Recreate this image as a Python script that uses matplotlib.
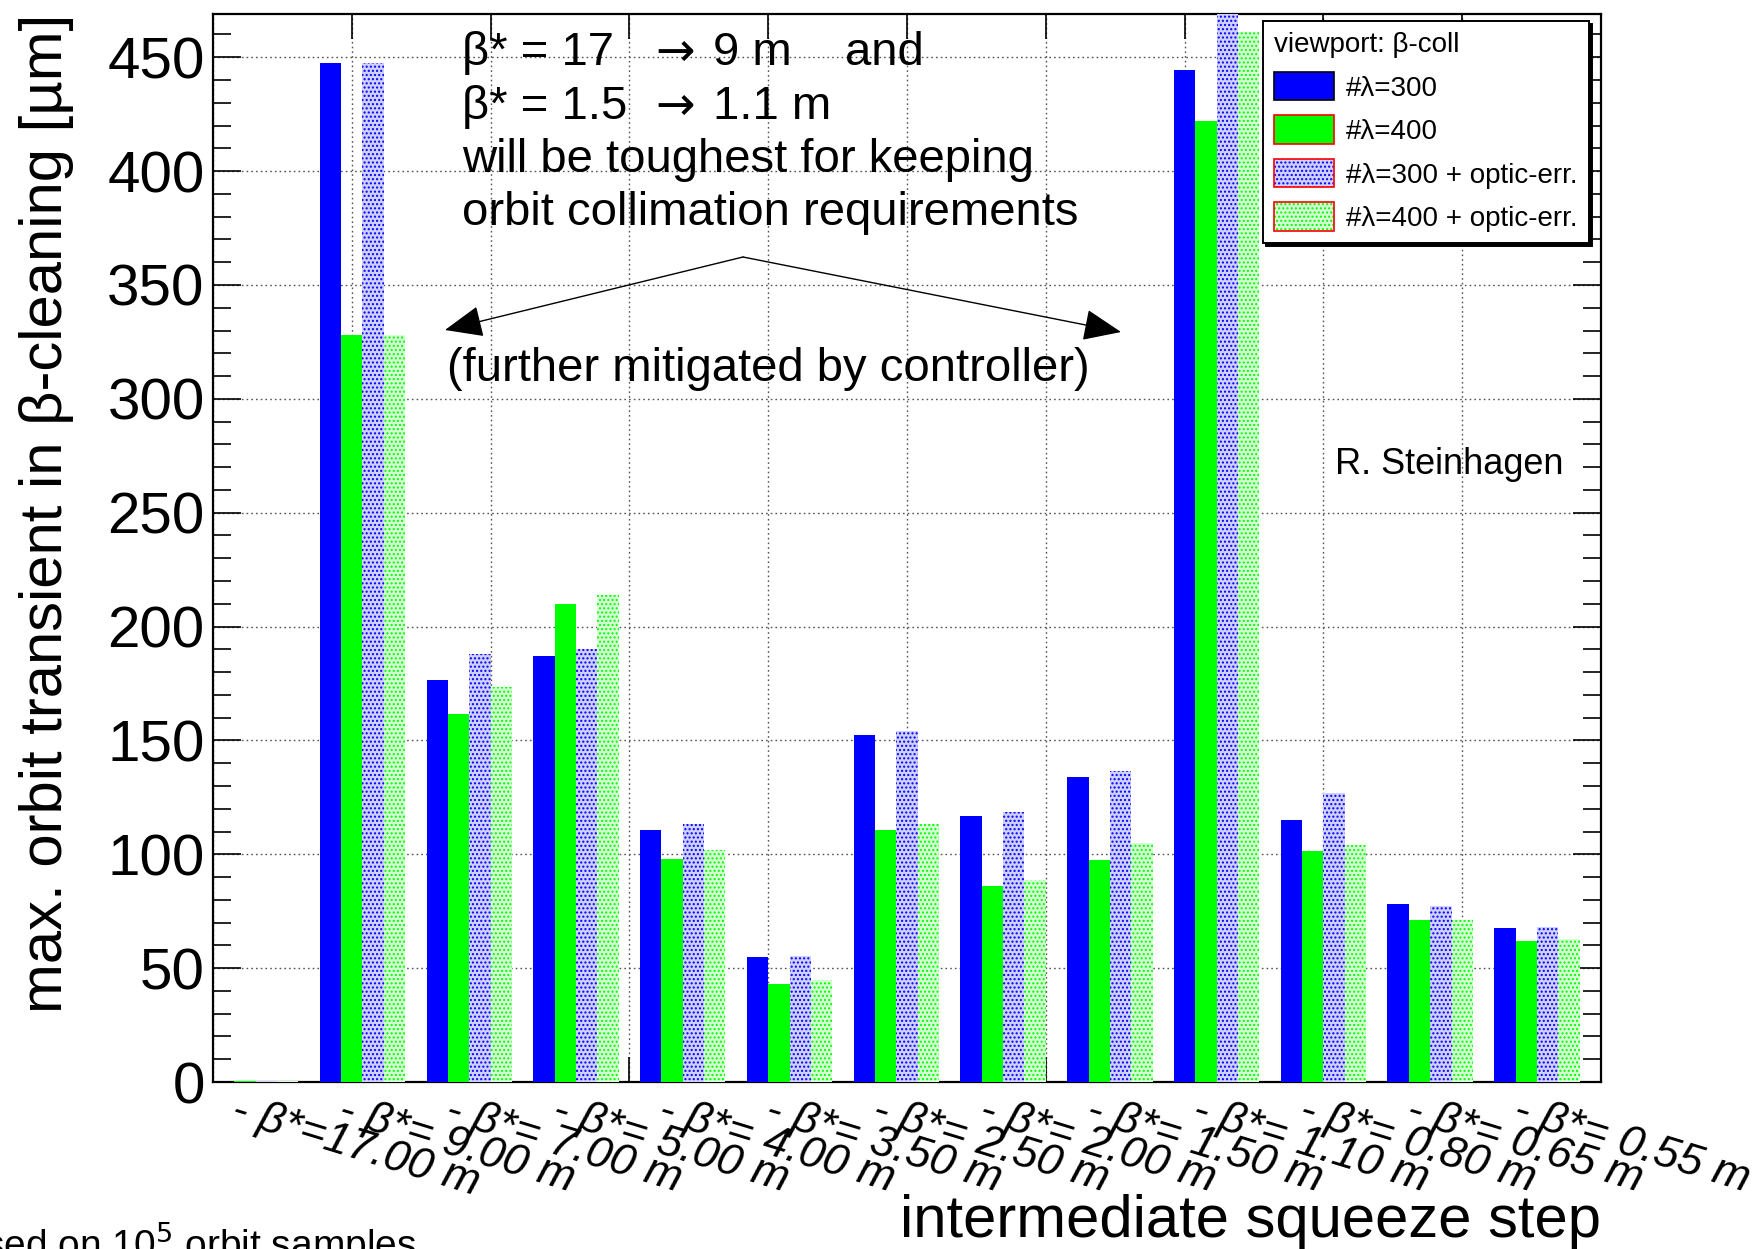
import numpy as np
import matplotlib
matplotlib.use("Agg")
import matplotlib.pyplot as plt
from matplotlib.patches import Patch
from matplotlib.ticker import MultipleLocator, FixedLocator
import matplotlib.transforms as mtransforms

# Squeeze steps (target beta* in metres)
beta_star = ["17.00", "9.00", "7.00", "5.00", "4.00", "3.50", "2.50",
             "2.00", "1.50", "1.10", "0.80", "0.65", "0.55"]

# Max. orbit transient in the beta-cleaning insertion [um]
lam300 = [0.0, 447.5, 176.5, 187.0, 110.5, 55.0, 152.5, 117.0, 134.0, 444.5, 115.0, 78.0, 67.5]
lam400 = [0.6, 328.0, 161.5, 210.0, 98.0, 43.0, 110.5, 86.0, 97.5, 422.0, 101.5, 71.0, 62.0]
lam300_err = [0.6, 447.5, 188.0, 190.0, 113.5, 55.5, 154.0, 118.5, 136.5, 472.0, 127.0, 77.5, 68.0]
lam400_err = [0.6, 328.0, 173.5, 214.0, 102.0, 45.0, 113.5, 88.5, 105.0, 461.0, 104.0, 71.0, 63.0]

series_labels = ["#λ=300", "#λ=400", "#λ=300 + optic-err.", "#λ=400 + optic-err."]
step_labels = [f"- β*={b:>5} m" for b in beta_star]

plt.rcParams["font.family"] = ["Liberation Sans", "DejaVu Sans"]
plt.rcParams["hatch.linewidth"] = 1.0

W, H, DPI = 1753, 1249, 100
fig = plt.figure(figsize=(W / DPI, H / DPI), dpi=DPI)


def fpos(x, y):
    """pixel position (from top-left) -> figure fraction"""
    return (x / W, 1 - y / H)


ax = fig.add_axes([213 / W, 1 - 1082 / H, (1601 - 213) / W, (1082 - 14) / H])

n = len(beta_star)
x = np.arange(n)
bw = 0.2

BLUE = "#0000ff"
GREEN = "#00ff00"
LBLUE = "#d0d0ff"
LGREEN = "#d6ffd6"
ax.bar(x + 0 * bw, lam300, width=bw, align="edge", color=BLUE, lw=0, zorder=3)
ax.bar(x + 1 * bw, lam400, width=bw, align="edge", color=GREEN, lw=0, zorder=3)
ax.bar(x + 2 * bw, lam300_err, width=bw, align="edge", facecolor=LBLUE,
       edgecolor=BLUE, hatch="....", lw=0, zorder=3)
ax.bar(x + 3 * bw, lam400_err, width=bw, align="edge", facecolor=LGREEN,
       edgecolor=GREEN, hatch="....", lw=0, zorder=3)

ax.set_xlim(0, n)
ax.set_ylim(0, 469)

# x axis: 10 equal divisions for ticks/grid, step names at bin centres
ax.xaxis.remove_overlapping_locs = False
ax.xaxis.set_major_locator(FixedLocator(np.linspace(0, n, 11)))
ax.xaxis.set_major_formatter(plt.NullFormatter())
ax.set_xticks(x + 0.5, step_labels, minor=True)
ax.tick_params(axis="x", which="major", direction="in", length=18, width=1.2,
               top=True, bottom=True)
ax.tick_params(axis="x", which="minor", length=0, pad=20, labelsize=32)

ax.yaxis.set_major_locator(MultipleLocator(50))
ax.yaxis.set_minor_locator(MultipleLocator(10))
ax.tick_params(axis="y", which="major", direction="in", length=20, width=1.2,
               right=True, labelsize=42, pad=6)
ax.tick_params(axis="y", which="minor", direction="in", length=13, width=1.2,
               right=True)

ax.grid(True, which="major", axis="both", color="#555555", lw=1.0,
        linestyle=(0, (1.2, 2.2)))
ax.set_axisbelow(True)
for sp in ax.spines.values():
    sp.set_linewidth(1.6)

shift = mtransforms.ScaledTranslation(-33 / DPI, 0, fig.dpi_scale_trans)
for lab in ax.get_xticklabels(minor=True):
    lab.set_rotation(-17)
    lab.set_ha("left")
    lab.set_va("center")
    lab.set_rotation_mode("anchor")
    lab.set_fontstyle("italic")
    lab.set_transform(lab.get_transform() + shift)

# axis titles
fig.text(*fpos(47, 14), "max. orbit transient in β-cleaning [µm]", rotation=90,
         ha="center", va="top", fontsize=43)
fig.text(*fpos(1601, 1237), "intermediate squeeze step", ha="right",
         va="baseline", fontsize=43)

# annotation
fs = 34
arrow_font = ["DejaVu Sans"]
fig.text(*fpos(462, 53), "β* = 17", fontsize=fs, va="center")
fig.text(*fpos(655, 53), "→", fontsize=fs, va="center", family=arrow_font)
fig.text(*fpos(713, 53), "9 m", fontsize=fs, va="center")
fig.text(*fpos(845, 53), "and", fontsize=fs, va="center")
fig.text(*fpos(462, 107), "β* = 1.5", fontsize=fs, va="center")
fig.text(*fpos(655, 107), "→", fontsize=fs, va="center", family=arrow_font)
fig.text(*fpos(713, 107), "1.1 m", fontsize=fs, va="center")
fig.text(*fpos(462, 160), "will be toughest for keeping", fontsize=fs, va="center")
fig.text(*fpos(462, 213), "orbit collimation requirements", fontsize=fs, va="center")
fig.text(*fpos(447, 369), "(further mitigated by controller)", fontsize=fs, va="center")

for tip in [(445, 330), (1121, 332)]:
    ax.annotate("", xy=fpos(*tip), xytext=fpos(743, 257),
                xycoords="figure fraction", textcoords="figure fraction",
                arrowprops=dict(arrowstyle="-|>,head_length=1.2,head_width=0.5",
                                color="black", lw=1.0, mutation_scale=20,
                                shrinkA=0, shrinkB=0))

fig.text(*fpos(1335, 465), "R. Steinhagen", fontsize=26, va="center")
fig.text(*fpos(416, 1257), "based on 10$^{5}$ orbit samples", fontsize=28,
         ha="right", va="baseline")

# legend
handles = [
    Patch(facecolor=BLUE, edgecolor="black", lw=1.2),
    Patch(facecolor=GREEN, edgecolor="red", lw=1.2),
    (Patch(facecolor=LBLUE, edgecolor=BLUE, hatch="....", lw=0),
     Patch(facecolor="none", edgecolor="red", lw=1.2)),
    (Patch(facecolor=LGREEN, edgecolor=GREEN, hatch="....", lw=0),
     Patch(facecolor="none", edgecolor="red", lw=1.2)),
]
leg = ax.legend(handles, series_labels, title="viewport: β-coll",
                loc="upper left", bbox_to_anchor=fpos(1263, 21),
                bbox_transform=fig.transFigure, borderaxespad=0,
                fontsize=20, title_fontsize=20, alignment="left",
                handlelength=2.15, handleheight=1.2, handletextpad=0.45,
                labelspacing=0.5, borderpad=0.4, fancybox=False,
                framealpha=1, edgecolor="black",
                shadow={"color": "black", "alpha": 1})
leg.get_frame().set_linewidth(1.4)

fig.savefig("out.png", dpi=DPI)
